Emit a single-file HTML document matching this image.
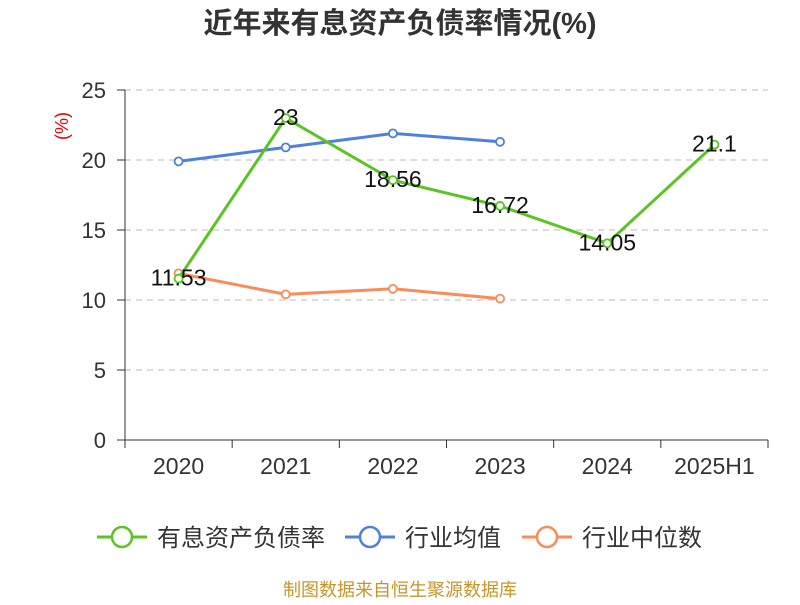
<!DOCTYPE html>
<html><head><meta charset="utf-8"><style>
body{margin:0;background:#fff;}
svg text{font-family:"Liberation Sans","Noto Sans CJK SC",sans-serif;}
</style></head><body>
<svg id="chart" width="800" height="600" xmlns="http://www.w3.org/2000/svg">
<text x="400" y="33" text-anchor="middle" font-size="29" font-weight="bold" fill="#333">近年来有息资产负债率情况(%)</text>
<text x="68" y="126" text-anchor="middle" font-size="18" fill="#e00" transform="rotate(-90 68 126)">(%)</text>
<g id="grid"></g><g id="axes"></g><g id="series"></g>
<g font-size="24" fill="#333">
<g><line x1="97" y1="537" x2="147" y2="537" stroke="#5bc422" stroke-width="3"/><circle cx="122" cy="537" r="10" fill="#fff" stroke="#5bc422" stroke-width="2.5"/><text x="157" y="546">有息资产负债率</text></g>
<g><line x1="345" y1="537" x2="395" y2="537" stroke="#4e80e0" stroke-width="3"/><circle cx="370" cy="537" r="10" fill="#fff" stroke="#4e80e0" stroke-width="2.5"/><text x="405" y="546">行业均值</text></g>
<g><line x1="522" y1="537" x2="572" y2="537" stroke="#fb8c5a" stroke-width="3"/><circle cx="547" cy="537" r="10" fill="#fff" stroke="#fb8c5a" stroke-width="2.5"/><text x="582" y="546">行业中位数</text></g>
</g>
<text x="400" y="596" text-anchor="middle" font-size="18" fill="#c8942a">制图数据来自恒生聚源数据库</text>
</svg>
<script>
const categories=["2020","2021","2022","2023","2024","2025H1"];
const yTicks=[0,5,10,15,20,25];
const debtRatio=[11.53,23,18.56,16.72,14.05,21.1];
const industryMean=[19.9,20.9,21.9,21.3];
const industryMedian=[11.9,10.4,10.8,10.1];
const NS="http://www.w3.org/2000/svg";
const x0=125,x1=768,yB=440,yT=90;
const bw=(x1-x0)/categories.length;
const xs=i=>x0+bw*(i+0.5);
const ys=v=>yB-(v/25)*(yB-yT);
function mk(tag,attrs,parent){const e=document.createElementNS(NS,tag);for(const k in attrs)e.setAttribute(k,attrs[k]);parent.appendChild(e);return e;}
const grid=document.getElementById('grid'),axes=document.getElementById('axes'),ser=document.getElementById('series');
yTicks.forEach(t=>{
 if(t>0){const g=mk('line',{x1:x0,x2:x1,y1:ys(t),y2:ys(t),stroke:'#bbb','stroke-dasharray':'6,5'},grid);
 
 }
 mk('line',{x1:x0-8,x2:x0,y1:ys(t),y2:ys(t),stroke:'#333'},axes);
 const l=mk('text',{x:x0-19,y:ys(t)+8,'text-anchor':'end','font-size':22,fill:'#333'},axes);l.textContent=t;
 
 
});
mk('line',{x1:x0,x2:x0,y1:yT,y2:yB,stroke:'#333'},axes);
mk('line',{x1:x0,x2:x1,y1:yB,y2:yB,stroke:'#333'},axes);
for(let i=0;i<=categories.length;i++)mk('line',{x1:x0+bw*i,x2:x0+bw*i,y1:yB,y2:yB+8,stroke:'#333'},axes);
categories.forEach((c,i)=>{const l=mk('text',{x:xs(i),y:474,'text-anchor':'middle','font-size':23,fill:'#333'},axes);l.textContent=c;
 
 });
function series(vals,color,name,labels){
 const g=mk('g',{},ser);
 
 
 mk('polyline',{points:vals.map((v,i)=>xs(i)+','+ys(v)).join(' '),fill:'none',stroke:color,'stroke-width':3},g);
 vals.forEach((v,i)=>{const c=mk('circle',{cx:xs(i),cy:ys(v),r:4,fill:'#fff',stroke:color,'stroke-width':1.8},g);
  
  
  if(labels){const t=mk('text',{x:xs(i),y:ys(v)+7,'text-anchor':'middle','font-size':23,fill:'#111'},g);t.textContent=v;
   
   }
 });
}
series(industryMedian,'#fb8c5a','industry-median-line',false);
series(industryMean,'#4e80e0','industry-mean-line',false);
series(debtRatio,'#5bc422','debt-ratio-line',true);
</script>
</body></html>
